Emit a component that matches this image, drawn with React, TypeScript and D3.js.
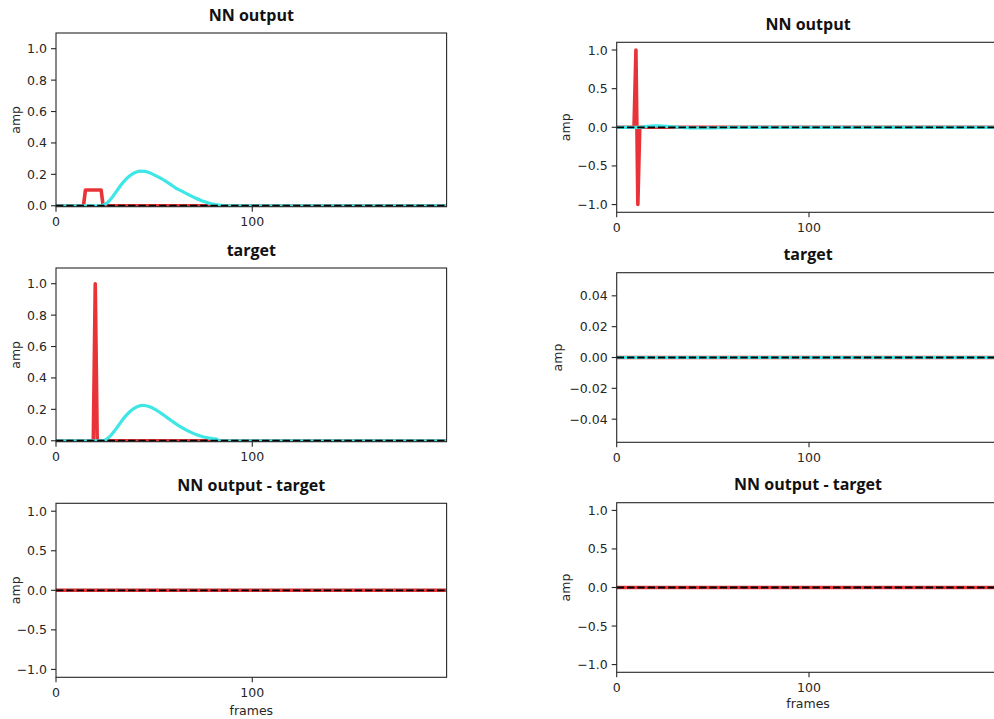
import React from "react";
import * as d3 from "d3";

// Frame axis runs over 200 frames (0..199)
const FRAME_END = 199;
const X_TICKS = [0, 100];

type Pt = [number, number];

// Left column: NN output (red = onset channel, cyan = envelope channel)
const nnRedL: Pt[] = [[0, 0], [14, 0], [15, 0.1], [23, 0.1], [24, 0], [199, 0]];
const nnCyanL: Pt[] = [
  [0, 0], [23, 0], [25, 0.01], [27, 0.03], [29, 0.06], [31, 0.095], [33, 0.13],
  [35, 0.16], [37, 0.185], [39, 0.203], [41, 0.215], [43, 0.22], [45, 0.219],
  [47, 0.213], [49, 0.203], [51, 0.19], [53, 0.178], [55, 0.163], [57, 0.147],
  [59, 0.13], [61, 0.113], [63, 0.1], [65, 0.087], [67, 0.074], [69, 0.061],
  [71, 0.049], [73, 0.038], [75, 0.028], [77, 0.02], [79, 0.013], [81, 0.008],
  [83, 0.004], [85, 0.001], [87, 0], [199, 0],
];

// Left column: target
const tgtRedL: Pt[] = [[0, 0], [19, 0], [20, 1.0], [21, 0], [199, 0]];
const tgtCyanL: Pt[] = [
  [0, 0], [24, 0], [26, 0.012], [28, 0.035], [30, 0.066], [32, 0.1], [34, 0.135],
  [36, 0.165], [38, 0.19], [40, 0.208], [42, 0.22], [44, 0.225], [46, 0.223],
  [48, 0.215], [50, 0.203], [52, 0.188], [54, 0.171], [56, 0.153], [58, 0.135],
  [60, 0.117], [62, 0.1], [64, 0.085], [66, 0.071], [68, 0.058], [70, 0.047],
  [72, 0.037], [74, 0.029], [76, 0.022], [78, 0.017], [80, 0.013], [82, 0.01],
  [83, 0], [199, 0],
];

// Left column: difference
const diffRedL: Pt[] = [[0, 0], [199, 0]];
const diffCyanL: Pt[] = [[0, 0], [199, 0]];

// Right column: NN output
const nnRedR: Pt[] = [[0, 0], [9, 0], [10, 1.0], [11, -1.0], [12, 0], [199, 0]];
const nnCyanR: Pt[] = [
  [0, 0], [12, 0], [14, 0.006], [16, 0.012], [18, 0.016], [20, 0.018], [22, 0.018],
  [24, 0.016], [26, 0.013], [28, 0.009], [30, 0.005], [32, 0.001], [36, -0.005],
  [40, -0.008], [45, -0.009], [50, -0.008], [55, -0.005], [60, -0.002], [64, 0],
  [199, 0],
];

// Right column: target and difference
const tgtRedR: Pt[] = [[0, 0], [199, 0]];
const tgtCyanR: Pt[] = [[0, 0], [199, 0]];
const diffRedR: Pt[] = [[0, 0], [199, 0]];
const diffCyanR: Pt[] = [[0, 0], [199, 0]];

// Y ticks
const TICKS_UNIT = [0, 0.2, 0.4, 0.6, 0.8, 1.0];
const TICKS_SYM = [-1.0, -0.5, 0, 0.5, 1.0];
const TICKS_SMALL = [-0.04, -0.02, 0, 0.02, 0.04];

const RED = "#e83438";
const CYAN = "#3ee6e6";
const TEXT = "#262626";
const TICK_FONT = "DejaVu Sans, sans-serif";
const TITLE_FONT = "'Open Sans', sans-serif";

interface PanelSpec {
  id: string;
  title: string;
  left: number;
  right: number;
  top: number;
  bottom: number;
  yDomain: [number, number];
  yTicks: number[];
  yFmt: string;
  red: Pt[];
  cyan: Pt[];
  redOnTop: boolean;
  ylabelX: number;
  xlabelY?: number;
}

const panels: PanelSpec[] = [
  { id: "a", title: "NN output", left: 56, right: 446.6, top: 33, bottom: 206.7,
    yDomain: [-0.006, 1.1], yTicks: TICKS_UNIT, yFmt: ".1f", red: nnRedL, cyan: nnCyanL,
    redOnTop: false, ylabelX: 15 },
  { id: "b", title: "target", left: 56, right: 446.6, top: 268, bottom: 441.7,
    yDomain: [-0.006, 1.1], yTicks: TICKS_UNIT, yFmt: ".1f", red: tgtRedL, cyan: tgtCyanL,
    redOnTop: false, ylabelX: 15 },
  { id: "c", title: "NN output - target", left: 56, right: 446.6, top: 503.3, bottom: 677.3,
    yDomain: [-1.1, 1.1], yTicks: TICKS_SYM, yFmt: ".1f", red: diffRedL, cyan: diffCyanL,
    redOnTop: true, ylabelX: 15, xlabelY: 715 },
  { id: "d", title: "NN output", left: 616.7, right: 999.4, top: 42.3, bottom: 212.3,
    yDomain: [-1.1, 1.1], yTicks: TICKS_SYM, yFmt: ".1f", red: nnRedR, cyan: nnCyanR,
    redOnTop: false, ylabelX: 565 },
  { id: "e", title: "target", left: 616.7, right: 999.4, top: 272.7, bottom: 442.3,
    yDomain: [-0.055, 0.055], yTicks: TICKS_SMALL, yFmt: ".2f", red: tgtRedR, cyan: tgtCyanR,
    redOnTop: false, ylabelX: 557 },
  { id: "f", title: "NN output - target", left: 616.7, right: 999.4, top: 502.7, bottom: 672.3,
    yDomain: [-1.1, 1.1], yTicks: TICKS_SYM, yFmt: ".1f", red: diffRedR, cyan: diffCyanR,
    redOnTop: true, ylabelX: 565, xlabelY: 708 },
];

function Panel({ p }: { p: PanelSpec }) {
  const x = d3.scaleLinear().domain([0, FRAME_END]).range([p.left, p.right]);
  const y = d3.scaleLinear().domain(p.yDomain).range([p.bottom, p.top]);
  const lineLin = d3.line<Pt>().x((d) => x(d[0])).y((d) => y(d[1]));
  const lineSmooth = d3
    .line<Pt>()
    .x((d) => x(d[0]))
    .y((d) => y(d[1]))
    .curve(d3.curveMonotoneX);
  const fmt = d3.format(p.yFmt);
  const clipId = `clip-${p.id}`;
  const cx = (p.left + p.right) / 2;
  const zeroLine: Pt[] = [[0, 0], [FRAME_END, 0]];

  const redPath = <path key="r" d={lineLin(p.red) ?? ""} stroke={RED} strokeWidth={3.6} />;
  const cyanPath = <path key="c" d={lineSmooth(p.cyan) ?? ""} stroke={CYAN} strokeWidth={3.2} />;

  return (
    <g>
      <defs>
        <clipPath id={clipId}>
          <rect x={p.left} y={p.top} width={p.right - p.left} height={p.bottom - p.top} />
        </clipPath>
      </defs>
      <g clipPath={`url(#${clipId})`} fill="none" strokeLinejoin="round" strokeLinecap="round">
        {p.redOnTop ? [cyanPath, redPath] : [redPath, cyanPath]}
        <path
          d={lineLin(zeroLine) ?? ""}
          stroke="#000"
          strokeWidth={1.8}
          strokeDasharray="7.4 2.9"
          strokeLinecap="butt"
        />
      </g>
      {/* spines */}
      <rect
        x={p.left}
        y={p.top}
        width={p.right - p.left}
        height={p.bottom - p.top}
        fill="none"
        stroke={TEXT}
        strokeWidth={1.1}
      />
      {/* y ticks */}
      {p.yTicks.map((t) => (
        <g key={`y${t}`}>
          <line x1={p.left - 5} x2={p.left} y1={y(t)} y2={y(t)} stroke={TEXT} strokeWidth={1.1} />
          <text
            x={p.left - 9}
            y={y(t)}
            dy="0.36em"
            textAnchor="end"
            fontFamily={TICK_FONT}
            fontSize={12.5}
            fill={TEXT}
          >
            {fmt(t)}
          </text>
        </g>
      ))}
      {/* x ticks */}
      {X_TICKS.map((t) => (
        <g key={`x${t}`}>
          <line x1={x(t)} x2={x(t)} y1={p.bottom} y2={p.bottom + 5} stroke={TEXT} strokeWidth={1.1} />
          <text
            x={x(t)}
            y={p.bottom + 19.5}
            textAnchor="middle"
            fontFamily={TICK_FONT}
            fontSize={12.5}
            fill={TEXT}
          >
            {t}
          </text>
        </g>
      ))}
      <text
        transform={`translate(${p.ylabelX},${(p.top + p.bottom) / 2}) rotate(-90)`}
        dy="0.36em"
        textAnchor="middle"
        fontFamily={TICK_FONT}
        fontSize={12.5}
        fill={TEXT}
      >
        amp
      </text>
      {p.xlabelY !== undefined && (
        <text
          x={cx}
          y={p.xlabelY}
          textAnchor="middle"
          fontFamily={TICK_FONT}
          fontSize={12.5}
          fill={TEXT}
        >
          frames
        </text>
      )}
      <text
        x={cx}
        y={p.top - 12.5}
        textAnchor="middle"
        fontFamily={TITLE_FONT}
        fontWeight={700}
        fontSize={16}
        fill="#111"
      >
        {p.title}
      </text>
    </g>
  );
}

export default function App() {
  return (
    <svg
      width={994}
      height={719}
      style={{ position: "absolute", left: 0, top: 0, background: "#fff" }}
    >
      {panels.map((p) => (
        <Panel key={p.id} p={p} />
      ))}
    </svg>
  );
}
